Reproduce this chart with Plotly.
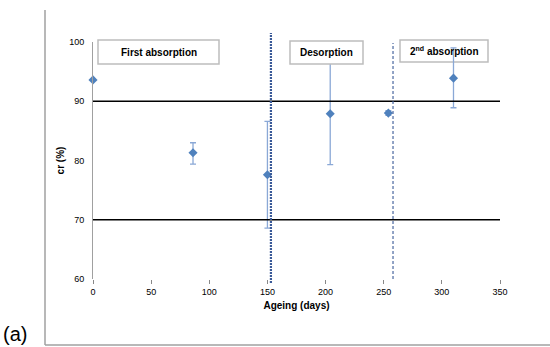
import plotly.graph_objects as go

# Measured compression ratio versus ageing time
ageing_days = [0, 86, 150, 204, 254, 310]
cr_percent = [93.6, 81.3, 77.6, 87.9, 88.0, 93.9]
err_plus = [0.0, 1.7, 9.0, 8.6, 0.4, 5.1]
err_minus = [0.0, 1.9, 9.0, 8.6, 0.4, 5.0]

x_ticks = [0, 50, 100, 150, 200, 250, 300, 350]
y_ticks = [60, 70, 80, 90, 100]
ref_levels = [90, 70]          # horizontal reference lines
phase_bounds = [153, 258]      # ends of first absorption / desorption
phase_labels = ["First absorption", "Desorption", "2<sup>nd</sup> absorption"]

X_RANGE = [0, 350]
Y_RANGE = [60, 100]
W, H = 550, 347
L, R, T, B = 93, 50, 42, 68
PW, PH = W - L - R, H - T - B

FONT = "Liberation Sans, Arial, sans-serif"
BLUE = "#4F81BD"
ERR = "#8AA8D6"
DASH = "#3A5A98"


def px_x(p):
    return (p - L) / PW


def px_y(p):
    return (H - B - p) / PH


def data_x(v):
    return (v - X_RANGE[0]) / (X_RANGE[1] - X_RANGE[0])


fig = go.Figure()

fig.add_trace(go.Scatter(
    x=ageing_days, y=cr_percent, mode="markers",
    marker=dict(symbol="diamond", size=7, color=BLUE),
    error_y=dict(type="data", symmetric=False, array=err_plus,
                 arrayminus=err_minus, color=ERR, thickness=1.3, width=3),
    cliponaxis=False, showlegend=False,
))

shapes = []
# horizontal reference levels
for lv in ref_levels:
    shapes.append(dict(type="line", xref="x", yref="y", x0=X_RANGE[0], x1=X_RANGE[1],
                       y0=lv, y1=lv, line=dict(color="black", width=1.3), layer="above"))
# phase boundaries
shapes.append(dict(type="line", xref="paper", yref="paper",
                   x0=data_x(phase_bounds[0]), x1=data_x(phase_bounds[0]),
                   y0=px_y(283), y1=px_y(33),
                   line=dict(color=DASH, width=2.2, dash="2px,1px"), layer="above"))
shapes.append(dict(type="line", xref="paper", yref="paper",
                   x0=data_x(phase_bounds[1]), x1=data_x(phase_bounds[1]),
                   y0=px_y(279), y1=px_y(43),
                   line=dict(color=DASH, width=1.1, dash="3px,2px"), layer="above"))

# label boxes (first and third sit beneath the markers)
boxes = [(98, 219, 40, 64), (290, 363, 41, 64), (400, 488, 40, 62)]
for i, (x0, x1, y0, y1) in enumerate(boxes):
    shapes.append(dict(type="rect", xref="paper", yref="paper",
                       x0=px_x(x0), x1=px_x(x1), y0=px_y(y1), y1=px_y(y0),
                       fillcolor="white", line=dict(color="#BDBDBD", width=1.5),
                       layer="above" if i == 1 else "below"))

# outer frame of the panel
shapes.append(dict(type="line", xref="paper", yref="paper",
                   x0=px_x(45), x1=px_x(45), y0=px_y(345), y1=px_y(10),
                   line=dict(color="#A0A0A0", width=1.5)))
shapes.append(dict(type="line", xref="paper", yref="paper",
                   x0=px_x(45), x1=px_x(552), y0=px_y(345), y1=px_y(345),
                   line=dict(color="#A0A0A0", width=1.5)))

annotations = []
for (x0, x1, y0, y1), lab in zip(boxes, phase_labels):
    annotations.append(dict(xref="paper", yref="paper",
                            x=px_x((x0 + x1) / 2), y=px_y((y0 + y1) / 2),
                            text="<b>%s</b>" % lab, showarrow=False,
                            font=dict(family=FONT, size=10, color="black"),
                            xanchor="center", yanchor="middle"))
annotations.append(dict(xref="paper", yref="paper", x=px_x(1), y=px_y(347),
                        text="(a)", showarrow=False, xanchor="left", yanchor="bottom",
                        font=dict(family=FONT, size=20, color="black")))

fig.update_layout(
    width=W, height=H,
    margin=dict(l=L, r=R, t=T, b=B, pad=0),
    paper_bgcolor="white", plot_bgcolor="white",
    font=dict(family=FONT, size=9, color="black"),
    shapes=shapes, annotations=annotations,
    xaxis=dict(range=X_RANGE, tickvals=x_ticks, showgrid=False, zeroline=False,
               showline=False, ticks="outside", ticklen=4, tickcolor="#888888",
               tickwidth=1, tickfont=dict(size=9),
               title=dict(text="<b>Ageing (days)</b>", font=dict(size=10), standoff=6)),
    yaxis=dict(range=Y_RANGE, tickvals=y_ticks, showgrid=False, zeroline=False,
               showline=True, linecolor="#A0A0A0", linewidth=1, ticks="",
               tickfont=dict(size=9), ticklabelstandoff=6,
               title=dict(text="<b>cr (%)</b>", font=dict(size=10), standoff=2)),
)

fig.write_html("out.html")
